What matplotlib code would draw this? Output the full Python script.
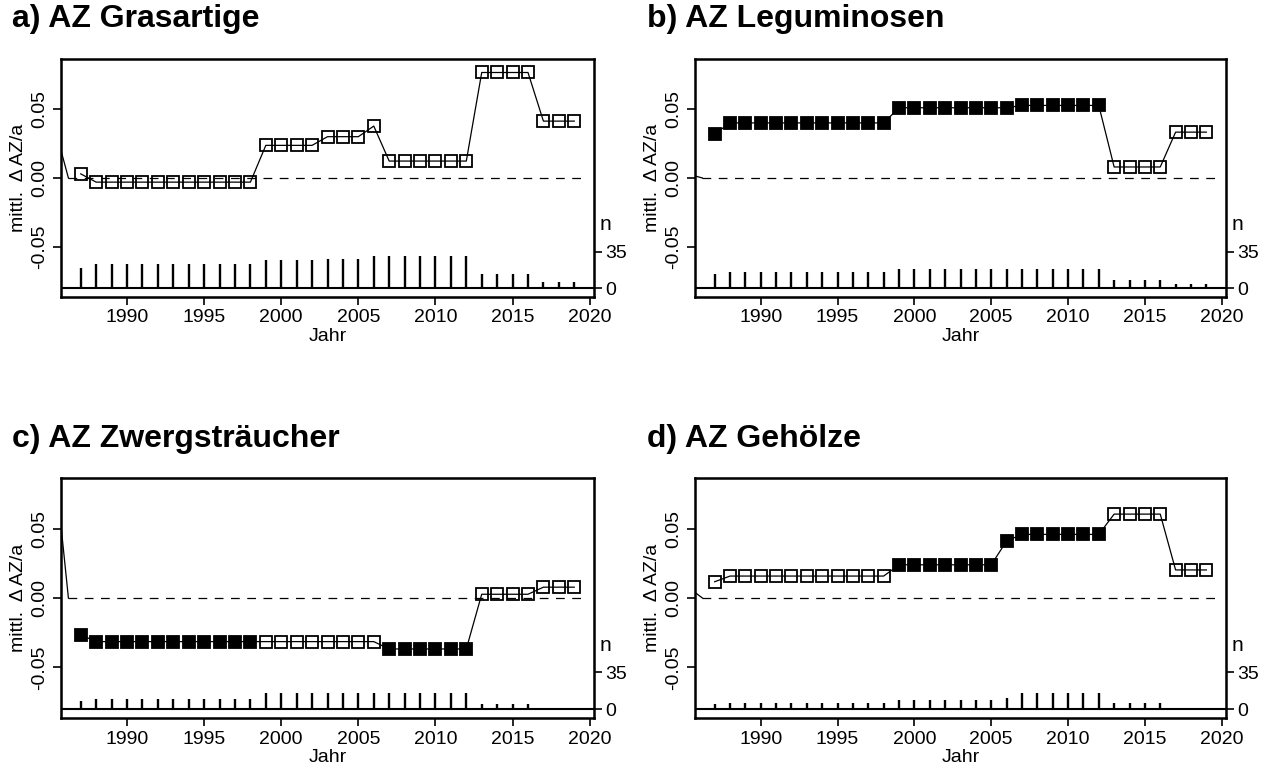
import matplotlib.pyplot as plt
import matplotlib.transforms as mtransforms
import numpy as np

plt.rcParams['font.family'] = ['Liberation Sans', 'DejaVu Sans']

## Data

years = list(range(1987, 2020))

titles = ['a) AZ Grasartige', 'b) AZ Leguminosen',
          'c) AZ Zwergsträucher', 'd) AZ Gehölze']

vals_a = ([0.003] + [-0.003] * 11 + [0.0237] * 4 + [0.030] * 3 + [0.0377]
          + [0.0123] * 6 + [0.0766] * 4 + [0.0413] * 3)
vals_b = ([0.032] + [0.040] * 11 + [0.051] * 8 + [0.0527] * 6
          + [0.008] * 4 + [0.0333] * 3)
vals_c = ([-0.0265] + [-0.0314] * 11 + [-0.0314] * 8 + [-0.0367] * 6
          + [0.0027] * 4 + [0.0078] * 3)
vals_d = ([0.0117] + [0.0158] * 11 + [0.0239] * 7 + [0.041]
          + [0.0458] * 6 + [0.0604] * 4 + [0.0202] * 3)

# filled square = True, open square = False
fill_a = [False] * 33
fill_b = [True] * 26 + [False] * 7
fill_c = [True] * 12 + [False] * 8 + [True] * 6 + [False] * 7
fill_d = [False] * 12 + [True] * 14 + [False] * 7

# number of plots per year
n_a = [19] + [23] * 11 + [27] * 4 + [28] * 3 + [31] * 7 + [14] * 4 + [6] * 3
n_b = [14] + [16] * 11 + [18] * 14 + [8] * 4 + [4] * 3
n_c = [8] + [10] * 11 + [15] * 14 + [5] * 4 + [0] * 3
n_d = [5] + [6] * 11 + [9] * 7 + [11] + [15] * 6 + [6] * 4 + [0] * 3

# odd lead-in segment at the left edge of every panel (value at left border)
lead_in = [0.020, 0.0015, 0.052, 0.004]

panels = [(vals_a, fill_a, n_a), (vals_b, fill_b, n_b),
          (vals_c, fill_c, n_c), (vals_d, fill_d, n_d)]

W, H = 1273, 771
fig = plt.figure(figsize=(W / 100, H / 100), dpi=100)

# axes boxes in pixels: left, right, top, bottom
boxes = [(61, 594, 59, 297), (695, 1226, 59, 297),
         (61, 594, 478, 718), (695, 1226, 478, 718)]
title_pos = [(12, 19), (647, 19), (12, 439), (647, 439)]

xlim = (1985.72, 2020.28)
ylim = (-0.0864, 0.0864)
nlim = (-8.5, 220.6)
fs = 14

for i, (vals, fills, n) in enumerate(panels):
    l, r, t, b = boxes[i]
    ax = fig.add_axes([l / W, 1 - b / H, (r - l) / W, (b - t) / H])
    ax2 = ax.twinx()

    ## n bars on the secondary scale
    ax2.vlines(years, 0, n, color='black', lw=1.7)
    ax2.axhline(0, color='black', lw=1.5)
    ax2.set_ylim(nlim)
    ax2.set_yticks([0, 35])
    ax2.tick_params(axis='y', direction='out', length=6, width=1.2,
                    labelsize=fs, pad=2)
    trans = mtransforms.blended_transform_factory(ax2.transAxes, ax2.transData)
    ax2.text(1.01, 61, 'n', transform=trans, fontsize=fs + 1,
             ha='left', va='center')

    ## mean change per year
    ax.plot([xlim[0], 1986.2], [lead_in[i], 0], color='black', lw=0.9)
    ax.plot([1986.2, 2019.8], [0, 0], color='black', lw=0.9,
            linestyle=(0, (7, 6)))
    ax.plot(years, vals, color='black', lw=0.9, zorder=3)
    yv = np.array(vals)
    fl = np.array(fills)
    yr = np.array(years)
    ax.plot(yr[fl], yv[fl], 's', ms=8.2, mfc='black', mec='black',
            mew=1.3, zorder=4)
    ax.plot(yr[~fl], yv[~fl], 's', ms=8.2, mfc='none', mec='black',
            mew=1.3, zorder=4)

    ax.set_xlim(xlim)
    ax.set_ylim(ylim)
    ax.set_xticks([1990, 1995, 2000, 2005, 2010, 2015, 2020])
    ax.set_yticks([-0.05, 0.0, 0.05])
    ax.set_yticklabels(['-0.05', '0.00', '0.05'], rotation=90, va='center')
    ax.tick_params(direction='out', length=6, width=1.2, labelsize=fs)
    ax.tick_params(axis='y', pad=3)
    ax.tick_params(axis='x', pad=3)
    ax.set_xlabel('Jahr', fontsize=fs, labelpad=1)
    ax.set_ylabel('mittl.  Δ AZ/a', fontsize=fs, labelpad=3)
    ax.set_zorder(ax2.get_zorder() + 1)
    ax.patch.set_visible(False)
    for s in ax.spines.values():
        s.set_linewidth(1.8)

    tx, ty = title_pos[i]
    fig.text(tx / W, 1 - ty / H, titles[i], fontsize=23, fontweight='bold',
             ha='left', va='center')

plt.savefig('out.png', dpi=100)
